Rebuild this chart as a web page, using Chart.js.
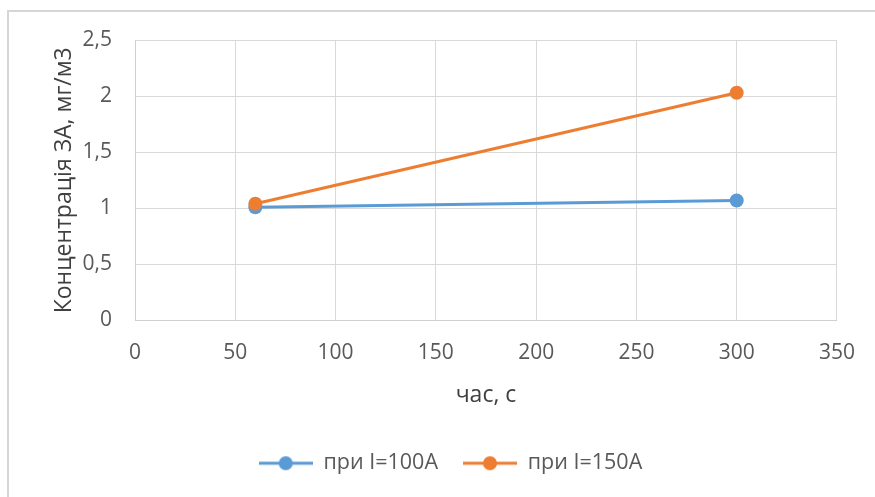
<!DOCTYPE html>
<html>
<head>
<meta charset="utf-8">
<script src="https://cdn.jsdelivr.net/npm/chart.js@4/dist/chart.umd.min.js"></script>
<style>
  html, body { margin: 0; padding: 0; background: #ffffff; }
  #wrap { width: 875px; height: 497px; position: relative; }
</style>
</head>
<body>
<div id="wrap"><canvas id="c" width="875" height="497"></canvas></div>
<script>
// Measurement times, s
const times = [60, 300];
// Concentration at I = 100 A and I = 150 A, mg/m3
const conc100 = [1.01, 1.07];
const conc150 = [1.04, 2.03];
const seriesNames = ['при I=100A', 'при I=150A'];
const seriesColors = ['#5B9BD5', '#ED7D31'];
const xTitle = 'час, с';
const yTitle = 'Концентрація ЗА, мг/м3';

const FONT = "'Open Sans', 'DejaVu Sans', sans-serif";

function toPoints(xs, ys) {
  return xs.map((x, i) => ({ x: x, y: ys[i] }));
}

// Legend marker: a short line with a dot in the middle
function legendMarker(color) {
  const cv = document.createElement('canvas');
  cv.width = 54; cv.height = 16;
  const g = cv.getContext('2d');
  g.strokeStyle = color;
  g.lineWidth = 3;
  g.beginPath(); g.moveTo(0, 8); g.lineTo(54, 8); g.stroke();
  g.fillStyle = color;
  g.beginPath(); g.arc(27, 8, 7, 0, Math.PI * 2); g.fill();
  return cv;
}

// Light frame around the chart
const framePlugin = {
  id: 'frame',
  beforeDraw(chart) {
    const ctx = chart.ctx;
    ctx.save();
    ctx.strokeStyle = '#d6d6d6';
    ctx.lineWidth = 2;
    ctx.strokeRect(8, 11, 900, 520);
    ctx.restore();
  }
};

// Nudge the legend row a little to the right of the plot centre
const legendShift = {
  id: 'legendShift',
  afterLayout(chart) {
    if (chart.legend) {
      chart.legend.left += 12;
      chart.legend.right += 12;
    }
  }
};

const datasets = [
  {
    label: seriesNames[0],
    data: toPoints(times, conc100),
    borderColor: seriesColors[0],
    backgroundColor: seriesColors[0],
    borderWidth: 3,
    pointRadius: 7,
    pointBorderWidth: 0,
    pointHoverRadius: 7,
    order: 1
  },
  {
    label: seriesNames[1],
    data: toPoints(times, conc150),
    borderColor: seriesColors[1],
    backgroundColor: seriesColors[1],
    borderWidth: 3,
    pointRadius: 7,
    pointBorderWidth: 0,
    pointHoverRadius: 7,
    order: 0
  }
];

new Chart(document.getElementById('c'), {
  type: 'line',
  data: { datasets: datasets },
  plugins: [framePlugin, legendShift],
  options: {
    responsive: false,
    animation: false,
    layout: { padding: { left: 40, right: 38, top: 40, bottom: 13 } },
    plugins: {
      tooltip: { enabled: false },
      legend: {
        position: 'bottom',
        labels: {
          usePointStyle: true,
          pointStyleWidth: 54,
          padding: 25,
          color: '#595959',
          font: { family: FONT, size: 21.5 },
          generateLabels(chart) {
            return seriesNames.map((name, i) => ({
              text: name,
              pointStyle: legendMarker(seriesColors[i]),
              fillStyle: seriesColors[i],
              strokeStyle: seriesColors[i],
              lineWidth: 0,
              fontColor: '#595959',
              datasetIndex: i,
              hidden: false
            }));
          }
        }
      }
    },
    scales: {
      x: {
        type: 'linear',
        min: 0,
        max: 350,
        ticks: {
          stepSize: 50,
          padding: 20,
          color: '#595959',
          font: { family: FONT, size: 21 }
        },
        grid: { color: '#d9d9d9', lineWidth: 1, drawTicks: false },
        border: { color: '#d0d0d0', width: 1 },
        title: {
          display: true,
          text: xTitle,
          color: '#404040',
          font: { family: FONT, size: 23 },
          padding: { top: 0, bottom: 18 }
        },
        afterFit(scale) { scale.height = 107; }
      },
      y: {
        min: 0,
        max: 2.5,
        ticks: {
          stepSize: 0.5,
          padding: 23,
          color: '#595959',
          font: { family: FONT, size: 21 },
          callback(v) { return String(v).replace('.', ','); }
        },
        grid: { color: '#d9d9d9', lineWidth: 1, drawTicks: false },
        border: { color: '#d0d0d0', width: 1 },
        title: {
          display: true,
          text: yTitle,
          color: '#404040',
          font: { family: FONT, size: 23 },
          padding: { top: 11, bottom: 0 }
        },
        afterFit(scale) { scale.width = 95; }
      }
    }
  }
});
</script>
</body>
</html>
